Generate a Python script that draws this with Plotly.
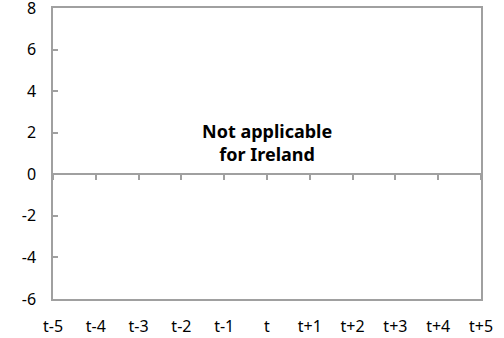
import plotly.graph_objects as go

categories = ["t-5", "t-4", "t-3", "t-2", "t-1", "t", "t+1", "t+2", "t+3", "t+4", "t+5"]
values = [None] * len(categories)  # no data shown for Ireland
y_ticks = [-6, -4, -2, 0, 2, 4, 6, 8]
y_tick_labels = ["-6", "-4", "-2", "0", "2", "4", "6", "8"]
note_text = "Not applicable<br>for Ireland"

positions = list(range(len(categories)))
FONT = "Noto Sans, Open Sans, sans-serif"
AX = "#a0a0a0"

fig = go.Figure()
fig.add_trace(go.Scatter(x=positions, y=values, mode="lines", showlegend=False, hoverinfo="skip"))
fig.add_trace(go.Scatter(x=positions, y=values, mode="lines", showlegend=False, hoverinfo="skip",
                         xaxis="x2"))

fig.add_annotation(x=5, y=1.55, xref="x", yref="y", text="<b>" + note_text + "</b>",
                   showarrow=False, font=dict(family=FONT, size=18, color="black"),
                   align="center")

fig.update_layout(
    width=504, height=338,
    margin=dict(l=53, r=23, t=8, b=39, autoexpand=False),
    paper_bgcolor="white", plot_bgcolor="white",
    font=dict(family=FONT, size=16, color="black"),
    xaxis=dict(range=[0, 10], tickvals=positions, ticktext=categories, showgrid=False,
               zeroline=False, showline=True, linecolor=AX, linewidth=1.5, mirror=True,
               ticks="", tickfont=dict(size=16), automargin=False, ticklabelstandoff=12,
               ticklabeloverflow="allow"),
    xaxis2=dict(range=[0, 10], tickvals=positions, showticklabels=False, overlaying="x",
                anchor="free", position=6 / 14, side="bottom", showgrid=False, zeroline=False,
                showline=True, linecolor=AX, linewidth=1.5, ticks="outside", ticklen=5,
                tickcolor=AX, tickwidth=1.5, automargin=False),
    yaxis=dict(range=[-6, 8], tickvals=y_ticks, ticktext=y_tick_labels, showgrid=False,
               zeroline=False, showline=True, linecolor=AX, linewidth=1.5, mirror=True,
               ticks="inside", ticklen=5, tickcolor=AX, tickwidth=1.5,
               tickfont=dict(size=16), ticklabelstandoff=12, automargin=False,
               ticklabeloverflow="allow"),
)

fig.write_html("out.html", config={"displayModeBar": False},
               post_script="document.body.style.margin='0';document.body.style.overflow='hidden';")
